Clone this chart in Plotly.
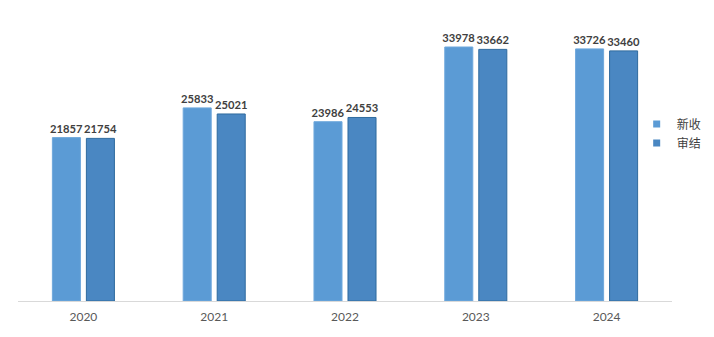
import plotly.graph_objects as go

years = ["2020", "2021", "2022", "2023", "2024"]
xinshou = [21857, 25833, 23986, 33978, 33726]
shenjie = [21754, 25021, 24553, 33662, 33460]

names = ["新收", "审结"]
colors = ["#5B9BD5", "#4A87C2"]
edges = ["#6FA8DC", "#2F6A9E"]

fig = go.Figure()
for name, vals, c, e in zip(names, [xinshou, shenjie], colors, edges):
    fig.add_trace(go.Bar(
        name=name, x=years, y=vals, showlegend=False,
        marker=dict(color=c, line=dict(color=e, width=1)),
        text=vals, textposition="outside", cliponaxis=False,
        constraintext="none",
        textfont=dict(family="Lato", size=11.2, color="#404040", weight="bold"),
    ))
for name, c in zip(names, colors):
    fig.add_trace(go.Scatter(
        name=name, x=[None], y=[None], mode="markers",
        marker=dict(symbol="square", size=7, color=c),
        showlegend=True,
    ))

fig.update_layout(
    width=714, height=337,
    margin=dict(l=18, r=42, t=2, b=36, autoexpand=False),
    paper_bgcolor="white", plot_bgcolor="white",
    barmode="group", bargap=0.48, bargroupgap=0.176,
    showlegend=True,
    legend=dict(x=0.946, xanchor="left", y=0.56, yanchor="middle",
                font=dict(family="Noto Sans CJK SC", size=12, color="#404040"),
                itemwidth=30, tracegroupgap=0, bgcolor="rgba(0,0,0,0)"),
    font=dict(family="Lato"),
)
fig.update_xaxes(showline=True, linecolor="#D9D9D9", linewidth=1,
                 ticks="", tickfont=dict(family="Lato", size=12, color="#595959"),
                 ticklabelstandoff=5)
fig.update_yaxes(range=[0, 40000], visible=False, showgrid=False, zeroline=False)

fig.write_html("out.html")
